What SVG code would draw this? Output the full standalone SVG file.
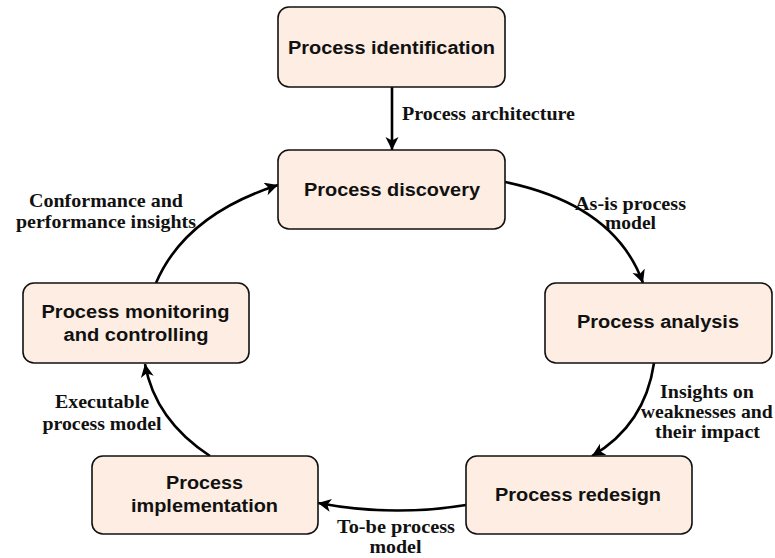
<svg xmlns="http://www.w3.org/2000/svg" width="775" height="558" viewBox="0 0 775 558">
<defs>
<style>
.box{fill:#fdede2;stroke:#111;stroke-width:1.6}
.nt{font-family:"Liberation Sans",Arial,sans-serif;font-weight:bold;font-size:17.5px;fill:#111;text-anchor:middle}
.lt{font-family:"Liberation Serif","Times New Roman",serif;font-weight:bold;font-size:19.5px;fill:#111;text-anchor:middle}
.edge{fill:none;stroke:#000;stroke-width:2.6;marker-end:url(#arr)}
</style>
<marker id="arr" markerUnits="userSpaceOnUse" markerWidth="16" markerHeight="14" refX="13" refY="6.5" orient="auto">
<path d="M0,0 L13,6.5 L0,13 L3.5,6.5 Z" fill="#000"/>
</marker>
</defs>
<rect width="775" height="558" fill="#fff"/>
<g id="connectors">
<path class="edge" d="M392,87 L392,150"/>
<path class="edge" d="M505,182 Q615,205 643,283"/>
<path class="edge" d="M654,363 Q645,425 592,456"/>
<path class="edge" d="M466,505 Q392,517 318,503"/>
<path class="edge" d="M210,456 Q155,420 145,364"/>
<path class="edge" d="M156,283 Q185,215 278,185"/>
<text class="lt" x="488.5" y="120" textLength="173" lengthAdjust="spacingAndGlyphs">Process architecture</text>
<text class="lt" x="630.5" y="210" textLength="111" lengthAdjust="spacingAndGlyphs">As-is process</text>
<text class="lt" x="630.5" y="229" textLength="51" lengthAdjust="spacingAndGlyphs">model</text>
<text class="lt" x="707" y="398" textLength="94" lengthAdjust="spacingAndGlyphs">Insights on</text>
<text class="lt" x="706.7" y="418" textLength="132" lengthAdjust="spacingAndGlyphs">weaknesses and</text>
<text class="lt" x="707.5" y="438" textLength="105" lengthAdjust="spacingAndGlyphs">their impact</text>
<text class="lt" x="396" y="532.5" textLength="118" lengthAdjust="spacingAndGlyphs">To-be process</text>
<text class="lt" x="395.5" y="553" textLength="52" lengthAdjust="spacingAndGlyphs">model</text>
<text class="lt" x="102" y="408" textLength="94" lengthAdjust="spacingAndGlyphs">Executable</text>
<text class="lt" x="102" y="430" textLength="119" lengthAdjust="spacingAndGlyphs">process model</text>
<text class="lt" x="106" y="206.5" textLength="154" lengthAdjust="spacingAndGlyphs">Conformance and</text>
<text class="lt" x="106" y="227.5" textLength="180" lengthAdjust="spacingAndGlyphs">performance insights</text>
</g>
<g id="identification">
<rect class="box" x="278" y="7" width="227" height="80" rx="11"/>
<text class="nt" x="391.5" y="54" textLength="207" lengthAdjust="spacingAndGlyphs">Process identification</text>
</g>
<g id="discovery">
<rect class="box" x="278" y="150" width="227" height="79" rx="11"/>
<text class="nt" x="392" y="196" textLength="176" lengthAdjust="spacingAndGlyphs">Process discovery</text>
</g>
<g id="analysis">
<rect class="box" x="545" y="283" width="227" height="80" rx="11"/>
<text class="nt" x="658" y="328" textLength="162" lengthAdjust="spacingAndGlyphs">Process analysis</text>
</g>
<g id="redesign">
<rect class="box" x="466" y="456" width="226" height="78" rx="11"/>
<text class="nt" x="578" y="501" textLength="166" lengthAdjust="spacingAndGlyphs">Process redesign</text>
</g>
<g id="implementation">
<rect class="box" x="92" y="456" width="226" height="78" rx="11"/>
<text class="nt" x="204.5" y="489" textLength="77" lengthAdjust="spacingAndGlyphs">Process</text>
<text class="nt" x="204.5" y="512" textLength="147" lengthAdjust="spacingAndGlyphs">implementation</text>
</g>
<g id="monitoring">
<rect class="box" x="23" y="283" width="226" height="80" rx="11"/>
<text class="nt" x="135.5" y="318" textLength="188" lengthAdjust="spacingAndGlyphs">Process monitoring</text>
<text class="nt" x="136" y="341" textLength="145" lengthAdjust="spacingAndGlyphs">and controlling</text>
</g>
</svg>
